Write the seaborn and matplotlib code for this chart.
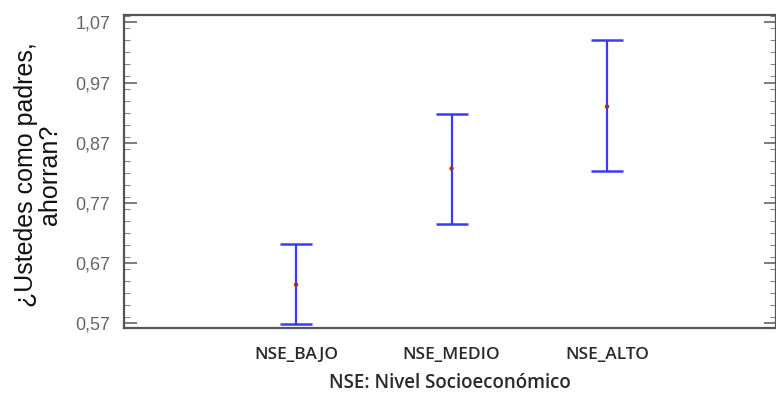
import numpy as np
import pandas as pd
import seaborn as sns
import matplotlib.pyplot as plt
from matplotlib.ticker import MultipleLocator, FixedLocator

# Values
groups = ['NSE_BAJO', 'NSE_MEDIO', 'NSE_ALTO']
means = [0.634, 0.827, 0.930]
lower = [0.568, 0.735, 0.823]
upper = [0.702, 0.917, 1.040]
y_ticks = [0.57, 0.67, 0.77, 0.87, 0.97, 1.07]

df = pd.DataFrame({'group': groups, 'mean': means, 'lower': lower, 'upper': upper})
df['pos'] = np.arange(len(groups))

sns.set_theme(style='white')
plt.rcParams['font.family'] = ['Liberation Sans', 'DejaVu Sans']

fig = plt.figure(figsize=(7.76, 3.98), dpi=100)
ax = fig.add_axes([0.16, 0.176, 0.84, 0.786])

# interval bars
err = [df['mean'] - df['lower'], df['upper'] - df['mean']]
ax.errorbar(df['pos'], df['mean'], yerr=err, fmt='none', ecolor='#3a3aff',
            elinewidth=1.6, capsize=11.5, capthick=1.8, zorder=2)
sns.scatterplot(data=df, x='pos', y='mean', ax=ax, color='#a03030', s=10,
                edgecolor='none', zorder=3, legend=False)

ax.set_xlim(-1.106, 3.087)
ax.set_ylim(0.562, 1.082)
ax.set_xticks(df['pos'])
ax.set_xticklabels(groups, family=['Open Sans', 'DejaVu Sans'], fontsize=12.5,
                   color='#2a2a2a', fontweight='semibold')
ax.tick_params(axis='x', length=0, pad=14)

ax.yaxis.set_major_locator(FixedLocator(y_ticks))
ax.yaxis.set_minor_locator(MultipleLocator(0.02))
ax.set_yticklabels([f'{v:.2f}'.replace('.', ',') for v in y_ticks],
                   fontsize=13, color='#666666')
ax.tick_params(axis='y', which='major', direction='in', length=9, width=1.2,
               left=True, right=True, color='#666666', pad=10)
ax.tick_params(axis='y', which='minor', direction='in', length=4, width=0.8,
               left=True, right=True, color='#888888')

for s in ax.spines.values():
    s.set_color('#555555')
    s.set_linewidth(1.6)

ax.set_xlabel('NSE: Nivel Socioeconómico', family=['Open Sans', 'DejaVu Sans'],
              fontsize=13.5, color='#2a2a2a', fontweight='semibold', labelpad=7)
ax.set_ylabel('¿Ustedes como padres,\nahorran?', fontsize=18, color='#111111',
              linespacing=1.0)
ax.yaxis.set_label_coords(-0.095, 0.49)
ax.set_facecolor('white')

fig.savefig('out.png', dpi=100, facecolor='white')
